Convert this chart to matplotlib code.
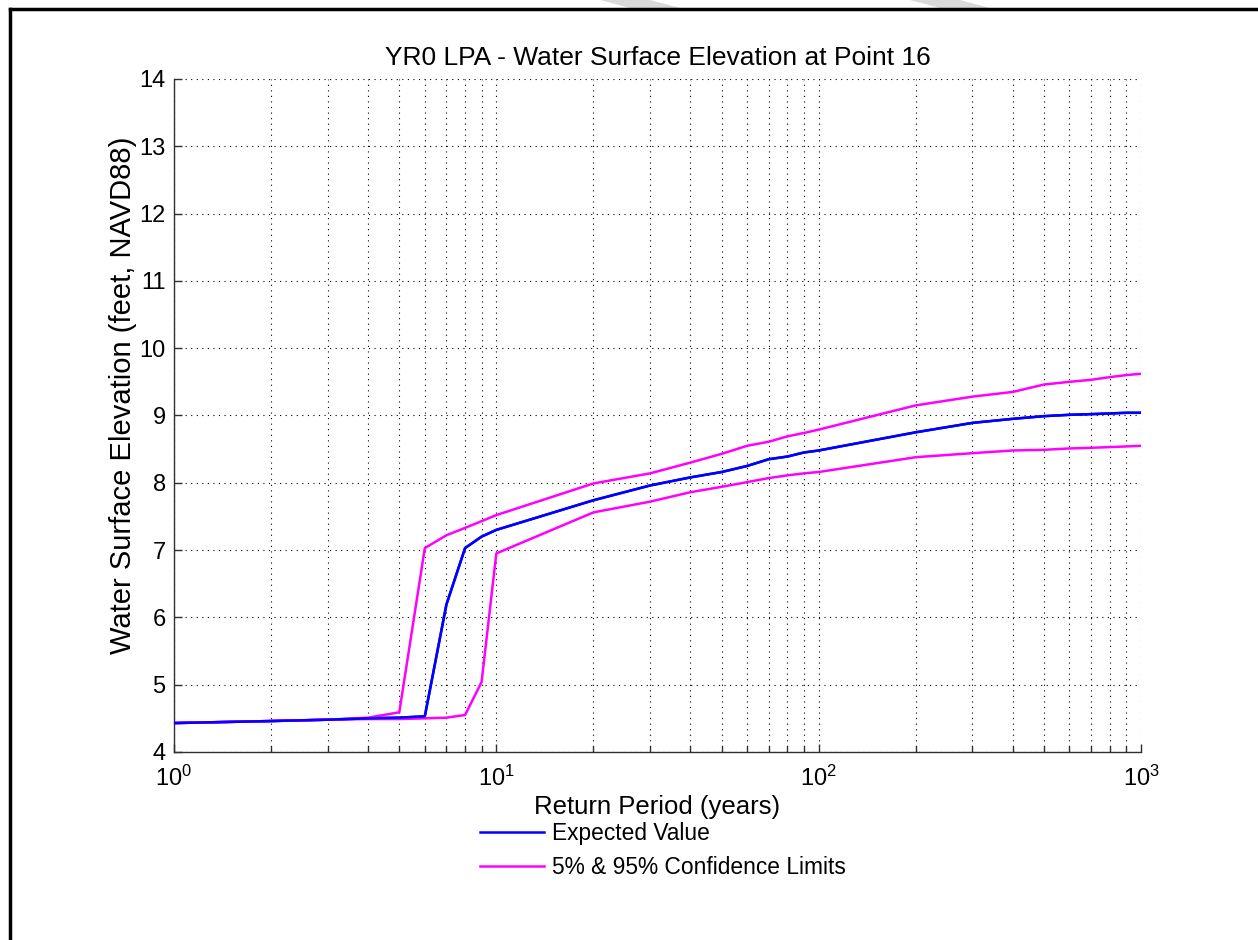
import matplotlib
matplotlib.use("Agg")
import matplotlib.pyplot as plt
from matplotlib.lines import Line2D
from matplotlib.patches import Polygon
from matplotlib.ticker import LogLocator, NullFormatter

plt.rcParams['font.family'] = ['Liberation Sans', 'DejaVu Sans']
plt.rcParams['mathtext.fontset'] = 'custom'
plt.rcParams['mathtext.rm'] = 'Liberation Sans'
plt.rcParams['mathtext.it'] = 'Liberation Sans'

# Return periods (years) and water surface elevations (feet, NAVD88)
return_period = [1, 2, 3, 4, 5, 6, 7, 8, 9, 10, 20, 30, 40, 50, 60, 70, 80, 90,
                 100, 200, 300, 400, 500, 600, 700, 800, 900, 1000]
expected = [4.43, 4.46, 4.48, 4.50, 4.51, 4.53, 6.19, 7.03, 7.20, 7.30, 7.74, 7.96,
            8.08, 8.16, 8.25, 8.35, 8.39, 8.45, 8.48, 8.75, 8.89, 8.95, 8.99, 9.01,
            9.02, 9.03, 9.04, 9.04]
upper_95 = [4.43, 4.46, 4.48, 4.51, 4.59, 7.03, 7.22, 7.33, 7.43, 7.52, 7.99, 8.14,
            8.30, 8.43, 8.55, 8.61, 8.69, 8.74, 8.79, 9.15, 9.28, 9.35, 9.46, 9.50,
            9.53, 9.57, 9.60, 9.62]
lower_5 = [4.43, 4.46, 4.48, 4.49, 4.49, 4.50, 4.51, 4.55, 5.04, 6.95, 7.56, 7.72,
           7.86, 7.94, 8.01, 8.07, 8.11, 8.14, 8.16, 8.38, 8.44, 8.48, 8.49, 8.51,
           8.52, 8.53, 8.54, 8.55]

title = "YR0 LPA - Water Surface Elevation at Point 16"
xlabel = "Return Period (years)"
ylabel = "Water Surface Elevation (feet, NAVD88)"
legend_labels = ["Expected Value", "5% & 95% Confidence Limits"]

fig = plt.figure(figsize=(12.58, 9.40), dpi=100)
ax = fig.add_axes([0.1383, 0.2, 0.7687, 0.716])

lw = 1.8
ax.plot(return_period, expected, color=(0, 0, 1), lw=lw, label=legend_labels[0])
ax.plot(return_period, upper_95, color=(1, 0, 1), lw=lw, label=legend_labels[1])
ax.plot(return_period, lower_5, color=(1, 0, 1), lw=lw)
# redraw the expected curve on top of the limits at the low end
ax.plot(return_period, expected, color=(0, 0, 1), lw=lw, zorder=3)

ax.set_xscale('log')
ax.set_xlim(1, 1000)
ax.set_ylim(4, 14)
ax.set_yticks(range(4, 15))
ax.xaxis.set_major_locator(LogLocator(base=10))
ax.xaxis.set_minor_locator(LogLocator(base=10, subs=range(2, 10)))
ax.xaxis.set_minor_formatter(NullFormatter())

ax.grid(True, which='major', axis='both', color='black', lw=0.8, linestyle=(0, (1, 4)))
ax.grid(True, which='minor', axis='x', color='black', lw=0.8, linestyle=(0, (1, 4)))

for side in ('top', 'right'):
    ax.spines[side].set_visible(False)
for side in ('left', 'bottom'):
    ax.spines[side].set_color('#303030')
    ax.spines[side].set_linewidth(1.0)

ax.tick_params(axis='both', which='major', direction='in', length=6, width=1,
               color='#303030', labelsize=17, pad=6)
ax.tick_params(axis='x', which='major', pad=10)
ax.tick_params(axis='x', which='minor', direction='in', length=4, width=1,
               color='#303030')
ax.tick_params(top=False, right=False, which='both')

ax.set_title(title, fontsize=19, pad=10)
ax.set_xlabel(xlabel, fontsize=18.5, labelpad=3)
ax.set_ylabel(ylabel, fontsize=21)
ax.yaxis.set_label_coords(-0.038, 0.53)

leg = ax.legend(loc='upper left', bbox_to_anchor=(0.316, -0.104),
                frameon=False, fontsize=16.4, handlelength=2.85, handletextpad=0.35,
                labelspacing=0.5, borderpad=0, borderaxespad=0)

# page frame lines on the left and top edges
fig.add_artist(Line2D([10 / 1258, 10 / 1258], [0, 1 - 9 / 940], color='black', lw=2.5,
                      transform=fig.transFigure))
fig.add_artist(Line2D([10 / 1258, 1], [1 - 9 / 940, 1 - 9 / 940], color='black', lw=2.5,
                      transform=fig.transFigure))

# light slanted bands above the frame
for x0 in (600, 910):
    pts = [(x0, 940), (x0 + 50, 940), (x0 + 80, 932), (x0 + 30, 932)]
    fig.add_artist(Polygon([(px / 1258, py / 940) for px, py in pts], closed=True,
                           facecolor='#d9d9d9', edgecolor='none',
                           transform=fig.transFigure))

fig.savefig("out.png", dpi=100)
